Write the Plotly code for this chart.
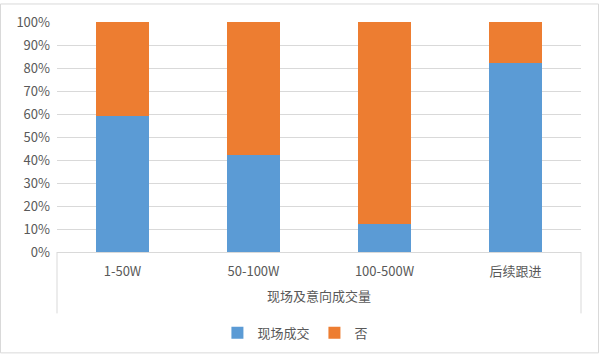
import plotly.graph_objects as go

categories = ["1-50W", "50-100W", "100-500W", "后续跟进"]
group_label = "现场及意向成交量"
series_names = ["现场成交", "否"]
deal_pct = [59, 42, 12, 82]
no_pct = [41, 58, 88, 18]
y_ticks = [0, 10, 20, 30, 40, 50, 60, 70, 80, 90, 100]
y_tick_labels = [f"{v}%" for v in y_ticks]

colors = ["#5b9bd5", "#ed7d31"]
text_color = "#595959"
grid_color = "#d9d9d9"
font_family = "Noto Sans CJK SC, Noto Sans, DejaVu Sans, sans-serif"

W, H = 600, 360
ml, mr, mt, mb = 57, 19, 19, 105
pw, ph = W - ml - mr, H - mt - mb

fig = go.Figure()
fig.add_trace(go.Bar(x=categories, y=deal_pct, name=series_names[0],
                     marker=dict(color=colors[0], line=dict(width=0))))
fig.add_trace(go.Bar(x=categories, y=no_pct, name=series_names[1],
                     marker=dict(color=colors[1], line=dict(width=0))))

fig.update_layout(
    width=W, height=H,
    margin=dict(l=ml, r=mr, t=mt, b=mb),
    barmode="stack", bargap=0.6,
    paper_bgcolor="white", plot_bgcolor="white",
    font=dict(family=font_family, size=13, color=text_color),
    showlegend=True,
    legend=dict(orientation="h", x=0.455, xanchor="center",
                y=-(338 - (mt + ph)) / ph, yanchor="middle",
                font=dict(size=13, color=text_color),
                itemwidth=30, traceorder="normal", itemsizing="constant"),
    xaxis=dict(type="category", showgrid=False, showline=True,
               linecolor=grid_color, linewidth=1, ticks="",
               ticklabelstandoff=7,
               tickfont=dict(size=13, color=text_color)),
    yaxis=dict(range=[0, 100], tickvals=y_ticks, ticktext=y_tick_labels,
               showgrid=True, gridcolor=grid_color, gridwidth=1,
               zeroline=False, showline=False, ticks="",
               ticklabelstandoff=6,
               tickfont=dict(size=13, color=text_color)),
)

box_bottom = -(318 - (mt + ph)) / ph
for xv in (0, 1):
    fig.add_shape(type="line", xref="paper", yref="paper",
                  x0=xv, x1=xv, y0=0, y1=box_bottom,
                  line=dict(color=grid_color, width=1))

fig.add_annotation(text=group_label, xref="paper", yref="paper",
                   x=0.5, y=-(300 - (mt + ph)) / ph, showarrow=False,
                   xanchor="center", yanchor="middle",
                   font=dict(size=13, color=text_color))

# outer chart frame
fig.add_shape(type="rect", xref="paper", yref="paper",
              x0=-(ml - 0.5) / pw, x1=1 + (mr - 1.5) / pw,
              y0=-(mb - 1.5) / ph, y1=1 + (mt - 0.5) / ph,
              line=dict(color=grid_color, width=1))

fig.write_html("out.html")
